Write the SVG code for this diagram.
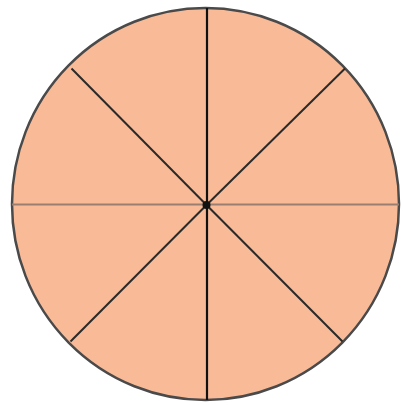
<svg xmlns="http://www.w3.org/2000/svg" width="404" height="405" viewBox="0 0 404 405">
<style>
.disc{fill:#F9BB97;stroke:#4a4a4a;stroke-width:2.5}
.spoke{stroke:#2a2a2a;stroke-width:2;stroke-linecap:butt}
.vert{stroke:#111;stroke-width:2.2}
.horiz{stroke:#9a7e72;stroke-width:1.8}
</style>
<rect width="404" height="405" fill="#fff"/>
<g id="circle">
<ellipse class="disc" cx="205.5" cy="204" rx="193.5" ry="196"/>
</g>
<g id="connectors">
<line class="vert" x1="207" y1="8" x2="207" y2="400"/>
<line class="horiz" x1="12" y1="204.5" x2="399" y2="204.5"/>
<line class="spoke" x1="71.5" y1="68.5" x2="206.5" y2="205"/>
<line class="spoke" x1="345" y1="68.5" x2="206.5" y2="205"/>
<line class="spoke" x1="70.5" y1="341.5" x2="206.5" y2="205"/>
<line class="spoke" x1="342.5" y1="341.5" x2="206.5" y2="205"/>
</g>
<g id="center">
<circle cx="206.5" cy="205" r="4" fill="#111"/>
</g>
</svg>
